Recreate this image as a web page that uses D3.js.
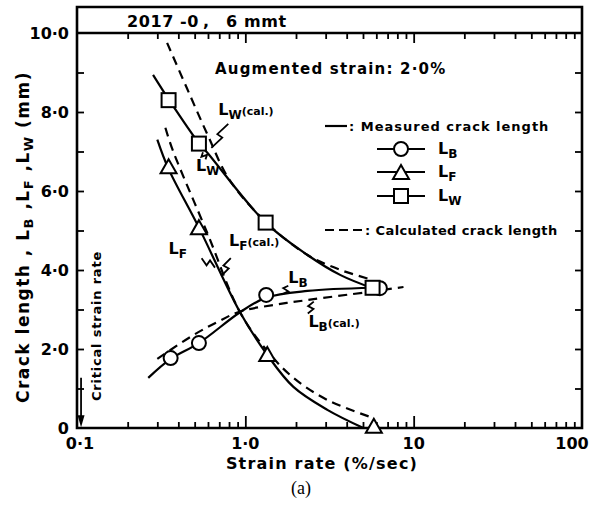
<!DOCTYPE html>
<html>
<head>
<meta charset="utf-8">
<style>
  body { margin: 0; background: #fff; }
  text { font-family: "DejaVu Sans", sans-serif; fill: #000; }
</style>
</head>
<body>
<script src="https://cdn.jsdelivr.net/npm/d3@7"></script>
<script>
// measured points (strain rate %/sec, crack length mm)
var rateB = [0.36, 0.53, 1.33, 6.3];
var lenB  = [1.77, 2.15, 3.37, 3.54];
var rateF = [0.35, 0.53, 1.35, 5.8];
var lenF  = [6.6, 5.06, 1.85, 0.03];
var rateW = [0.35, 0.53, 1.32, 5.7];
var lenW  = [8.3, 7.2, 5.2, 3.55];

// measured crack length curves (solid)
var measB = [[0.265, 1.27], [0.36, 1.75], [0.53, 2.15], [0.93, 2.93], [1.33, 3.3], [2.34, 3.47], [5.7, 3.55]];
var measF = [[0.30, 7.3], [0.348, 6.58], [0.532, 5.06], [0.93, 2.93], [1.35, 1.85], [1.93, 1.04], [3.07, 0.46], [5.03, 0]];
var measW = [[0.283, 8.94], [0.353, 8.3], [0.532, 7.2], [0.6, 6.95], [1.32, 5.2], [2.34, 4.38], [3.68, 3.87], [5.7, 3.54]];

// calculated crack length curves (dashed)
var calcB = [[0.30, 1.75], [0.49, 2.35], [0.68, 2.68], [0.93, 2.95], [1.5, 3.12], [2.34, 3.24], [5.3, 3.44], [8.7, 3.57]];
var calcF = [[0.335, 7.6], [0.37, 7.04], [0.594, 4.94], [0.93, 2.93], [1.35, 1.95], [1.93, 1.27], [3.07, 0.71], [5.78, 0.25]];
var calcW = [[0.343, 9.75], [0.45, 8.6], [0.6, 7.4], [0.8, 6.3], [1.32, 5.22], [2.34, 4.38], [3.68, 4.0], [5.7, 3.75]];

var xTickLabels = ["0·1", "1·0", "10", "100"];
var xTickVals = [0.1, 1, 10, 100];
var yTickVals = [0, 2, 4, 6, 8, 10];
var yTickLabels = ["0", "2·0", "4·0", "6·0", "8·0", "10·0"];

var W = 594, H = 505;
var svg = d3.select("body").append("svg").attr("width", W).attr("height", H);

var x = d3.scaleLog().domain([0.1, 100]).range([77, 582]);
var y = d3.scaleLinear().domain([0, 10]).range([428, 33]);

// axes, ticks inward
var minorX = x.ticks().filter(function(d) { return xTickVals.indexOf(d) < 0; });
function xAxis(gen, ty, size) {
  return svg.append("g").attr("transform", "translate(0," + ty + ")")
    .call(gen.tickSizeOuter(0).tickSize(size).tickFormat(""));
}
xAxis(d3.axisBottom(x).tickValues(minorX), 428, -6);
xAxis(d3.axisBottom(x).tickValues([1, 10]), 428, -12);
xAxis(d3.axisTop(x).tickValues(minorX), 33, -6);
xAxis(d3.axisTop(x).tickValues([1, 10]), 33, -10);

var yt = d3.range(1, 10);
svg.append("g").attr("transform", "translate(77,0)")
  .call(d3.axisLeft(y).tickValues(yt).tickSize(-7).tickSizeOuter(0).tickFormat(""));
svg.append("g").attr("transform", "translate(582,0)")
  .call(d3.axisRight(y).tickValues(yt).tickSize(-7).tickSizeOuter(0).tickFormat(""));
svg.selectAll(".tick line").attr("stroke", "#000").attr("stroke-width", 1.8);
svg.selectAll(".domain").remove();

// frame
svg.append("path")
  .attr("d", "M77,7H582V428H77Z M77,33H582")
  .attr("fill", "none").attr("stroke", "#000").attr("stroke-width", 2.6);

// tick labels
svg.selectAll(".xl").data(xTickVals).enter().append("text")
  .attr("x", function(d, i) { return x(d) + (i == 3 ? -10 : (i == 0 ? 3 : 0)); })
  .attr("y", 449).attr("text-anchor", "middle")
  .style("font-size", "16px").style("font-weight", "bold")
  .text(function(d, i) { return xTickLabels[i]; });
svg.selectAll(".yl").data(yTickVals).enter().append("text")
  .attr("x", 69).attr("y", function(d) { return y(d) + 6; })
  .attr("text-anchor", "end")
  .style("font-size", "16px").style("font-weight", "bold")
  .text(function(d, i) { return yTickLabels[i]; });

// titles
svg.append("text").attr("x", 322).attr("y", 469).attr("text-anchor", "middle")
  .style("font-size", "16px").style("font-weight", "bold").style("letter-spacing", "1.2px")
  .text("Strain rate (%/sec)");
svg.append("text").attr("x", 301).attr("y", 494).attr("text-anchor", "middle")
  .style("font-family", "'Liberation Serif', serif").style("font-size", "18px")
  .text("(a)");

var yl = svg.append("text").attr("transform", "translate(29,237) rotate(-90)")
  .attr("text-anchor", "middle")
  .style("font-size", "17px").style("font-weight", "bold").style("letter-spacing", "1.5px");
yl.append("tspan").text("Crack  length , L");
yl.append("tspan").attr("baseline-shift", "-4").style("font-size", "13px").text("B");
yl.append("tspan").text(" ,L");
yl.append("tspan").attr("baseline-shift", "-4").style("font-size", "13px").text("F");
yl.append("tspan").text(" ,L");
yl.append("tspan").attr("baseline-shift", "-4").style("font-size", "13px").text("W");
yl.append("tspan").text("  (mm)");

svg.append("text").attr("transform", "translate(101,326) rotate(-90)")
  .attr("text-anchor", "middle")
  .style("font-size", "13px").style("font-weight", "bold").style("letter-spacing", "0.8px")
  .text("Critical strain rate");

// critical strain rate arrow
var cx = x(0.1057);
svg.append("line").attr("x1", cx).attr("x2", cx).attr("y1", y(1.27)).attr("y2", y(0.25))
  .attr("stroke", "#000").attr("stroke-width", 1.8);
svg.append("path").attr("d", "M" + (cx - 3.5) + "," + y(0.32) + "L" + (cx + 3.5) + "," + y(0.32) + "L" + cx + "," + y(0.02) + "Z")
  .attr("fill", "#000");

svg.append("text").attr("x", 127).attr("y", 27)
  .style("font-size", "16px").style("font-weight", "bold").style("letter-spacing", "0.6px")
  .text("2017 -0");
svg.append("text").attr("x", 203).attr("y", 27)
  .style("font-size", "16px").style("font-weight", "bold").style("letter-spacing", "0.6px")
  .text(",");
svg.append("text").attr("x", 226).attr("y", 27)
  .style("font-size", "16px").style("font-weight", "bold").style("letter-spacing", "0.6px")
  .text("6 mmt");
svg.append("text").attr("x", 215).attr("y", 74)
  .style("font-size", "15px").style("font-weight", "bold").style("letter-spacing", "1.2px")
  .text("Augmented  strain: 2·0%");

// curves
var line = d3.line().x(function(d) { return x(d[0]); }).y(function(d) { return y(d[1]); })
  .curve(d3.curveCatmullRom.alpha(0.5));
[measB, measF, measW].forEach(function(c) {
  svg.append("path").attr("d", line(c)).attr("fill", "none")
    .attr("stroke", "#000").attr("stroke-width", 2.2);
});
[calcB, calcF, calcW].forEach(function(c) {
  svg.append("path").attr("d", line(c)).attr("fill", "none")
    .attr("stroke", "#000").attr("stroke-width", 2.2).attr("stroke-dasharray", "9,6");
});

// markers
function marker(g, shape, px, py) {
  if (shape == "o") g.append("circle").attr("cx", px).attr("cy", py).attr("r", 7);
  if (shape == "t") g.append("path").attr("d", "M" + px + "," + (py - 8) + "L" + (px + 8) + "," + (py + 6) + "L" + (px - 8) + "," + (py + 6) + "Z");
  if (shape == "s") g.append("rect").attr("x", px - 7).attr("y", py - 7).attr("width", 14).attr("height", 14);
}
var mk = svg.append("g").attr("fill", "#fff").attr("stroke", "#000").attr("stroke-width", 2);
rateB.forEach(function(r, i) { marker(mk, "o", x(r), y(lenB[i])); });
rateF.forEach(function(r, i) { marker(mk, "t", x(r), y(lenF[i])); });
rateW.forEach(function(r, i) { marker(mk, "s", x(r), y(lenW[i])); });

// labels with zigzag leaders
function label(px, py, sub, cal) {
  var t = svg.append("text").attr("x", px).attr("y", py)
    .style("font-size", "16px").style("font-weight", "bold");
  t.append("tspan").text("L");
  t.append("tspan").attr("baseline-shift", "-4").style("font-size", "12px").text(sub);
  if (cal) t.append("tspan").style("font-size", "11px").text("(cal.)");
}
function zig(a, b) {
  var x1 = x(a[0]), y1 = y(a[1]), x2 = x(b[0]), y2 = y(b[1]);
  var mx = (x1 + x2) / 2, my = (y1 + y2) / 2;
  var dx = x2 - x1, dy = y2 - y1, len = Math.sqrt(dx * dx + dy * dy);
  var nx = -dy / len * 3, ny = dx / len * 3;
  svg.append("path")
    .attr("d", "M" + x1 + "," + y1 + "L" + (mx + nx) + "," + (my + ny) + "L" + (mx - nx) + "," + (my - ny) + "L" + x2 + "," + y2)
    .attr("fill", "none").attr("stroke", "#000").attr("stroke-width", 1.8);
}
var annLabels = [
  { sub: "W", cal: true,  at: [0.69, 7.93], from: [0.792, 7.70], to: [0.628, 7.09] },
  { sub: "W", cal: false, at: [0.51, 6.5], from: [0.58, 6.8], to: [0.56, 6.98] },
  { sub: "F", cal: false, at: [0.35, 4.4], from: [0.55, 4.3], to: [0.66, 4.06] },
  { sub: "F", cal: true,  at: [0.80, 4.6], from: [0.82, 4.3], to: [0.72, 3.85] },
  { sub: "B", cal: false, at: [1.8, 3.68], from: [1.8, 3.6], to: [1.68, 3.4] },
  { sub: "B", cal: true,  at: [2.37, 2.55], from: [2.55, 3.2], to: [2.35, 2.9] }
];
annLabels.forEach(function(a) {
  label(x(a.at[0]), y(a.at[1]), a.sub, a.cal);
  zig(a.from, a.to);
});

// legend
var lg = svg.append("g").style("font-size", "13px").style("font-weight", "bold");
lg.append("line").attr("x1", 325).attr("x2", 347).attr("y1", 126).attr("y2", 126)
  .attr("stroke", "#000").attr("stroke-width", 2.2);
lg.append("text").attr("x", 349).attr("y", 131).style("letter-spacing", "1px").text(": Measured crack length");
var legRows = [["o", "B", 149], ["t", "F", 172], ["s", "W", 196]];
legRows.forEach(function(r) {
  lg.append("line").attr("x1", 377).attr("x2", 425).attr("y1", r[2]).attr("y2", r[2])
    .attr("stroke", "#000").attr("stroke-width", 2);
  var g = lg.append("g").attr("fill", "#fff").attr("stroke", "#000").attr("stroke-width", 2);
  marker(g, r[0], 401, r[2] + (r[0] == "t" ? 1 : 0));
  label(438, r[2] + 5, r[1], false);
});
lg.append("line").attr("x1", 325).attr("x2", 363).attr("y1", 230).attr("y2", 230)
  .attr("stroke", "#000").attr("stroke-width", 2.2).attr("stroke-dasharray", "9,5");
lg.append("text").attr("x", 365).attr("y", 235).style("letter-spacing", "0.4px").text(": Calculated crack length");
</script>
</body>
</html>
